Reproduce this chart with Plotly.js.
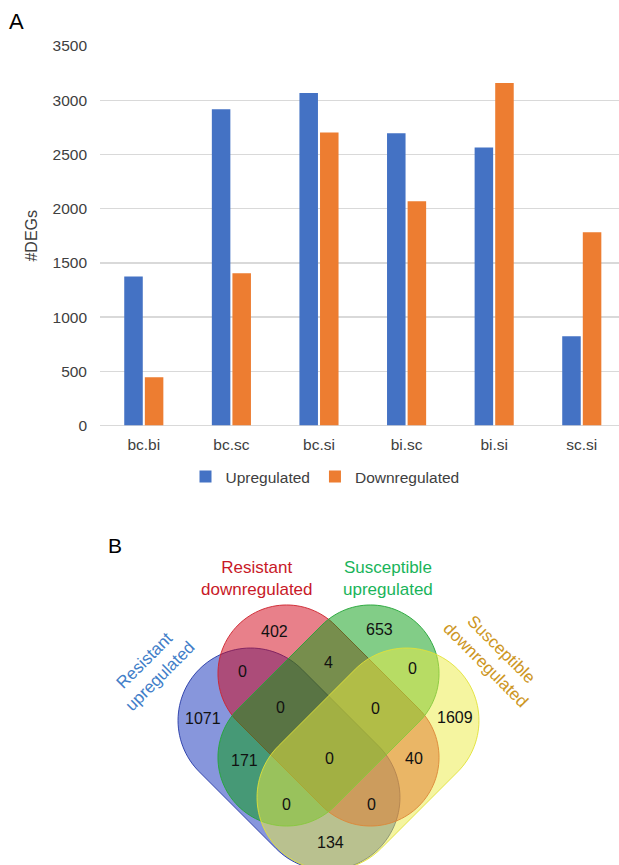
<!DOCTYPE html>
<html>
<head>
<meta charset="utf-8">
<script src="https://cdn.plot.ly/plotly-3.0.1.min.js"></script>
<style>
html, body { margin: 0; padding: 0; background: #ffffff; }
#chart { width: 619px; height: 865px; }
</style>
</head>
<body>
<div id="chart"></div>
<script>
// ---------- Panel A data ----------
const categories = ['bc.bi', 'bc.sc', 'bc.si', 'bi.sc', 'bi.si', 'sc.si'];
const upregulated = [1375, 2917, 3067, 2696, 2563, 822];
const downregulated = [445, 1403, 2702, 2068, 3158, 1782];
const seriesNames = ['Upregulated', 'Downregulated'];
const yTickValues = [0, 500, 1000, 1500, 2000, 2500, 3000, 3500];

// ---------- Panel B data ----------
const vennSetNames = ['Resistant<br>upregulated', 'Resistant<br>downregulated',
                      'Susceptible<br>upregulated', 'Susceptible<br>downregulated'];
// regions, each named by its member sets (1 = Resistant up, 2 = Resistant down, 3 = Susceptible up, 4 = Susceptible down)
const vennRegions = ['1', '2', '3', '4', '12', '13', '14', '23', '24', '34', '123', '124', '134', '234', '1234'];
const vennCounts  = [1071, 402, 653, 1609, 0, 171, 134, 4, 40, 0, 0, 0, 0, 0, 0];

// ---------- layout helpers (geometry only) ----------
const W = 619, H = 865;
const px = x => x / W;
const py = y => 1 - y / H;
const FONT = 'Liberation Sans, Arial, sans-serif';

// position of each venn region label (pixels)
const regionPos = {
  '1': [203, 718], '2': [274, 631], '3': [379, 629], '4': [455, 717],
  '12': [242, 671], '13': [244, 760], '14': [330, 842], '23': [328, 662],
  '24': [414, 758], '34': [413, 668], '123': [280, 707], '124': [371, 804],
  '134': [286, 804], '234': [375, 708], '1234': [329, 758]
};

// capsule geometry for the four sets (pixels; s = half length of straight part, r = radius,
// ang = direction of the long axis on screen)
const capsules = [
  { cx: 289,   cy: 759,   s: 54.4, r: 72.5, ang: 45,  fill: 'rgba(15,45,185,0.5)',  line: 'rgba(35,55,165,0.9)' },
  { cx: 328.5, cy: 715.5, s: 59.3, r: 68.6, ang: 45,  fill: 'rgba(209,1,21,0.5)',   line: 'rgba(205,35,45,0.9)' },
  { cx: 328.5, cy: 715.5, s: 59.3, r: 68.6, ang: -45, fill: 'rgba(5,155,15,0.5)',   line: 'rgba(35,165,55,0.9)' },
  { cx: 368,   cy: 759,   s: 54.4, r: 72.5, ang: -45, fill: 'rgba(235,235,65,0.5)', line: 'rgba(225,225,55,0.9)' }
];

function capsulePath(e) {
  const n = 60, t0 = e.ang * Math.PI / 180;
  const ux = Math.cos(t0), uy = Math.sin(t0);
  const vx = -uy, vy = ux;
  const pts = [];
  [1, -1].forEach(side => {
    const ccx = e.cx + side * e.s * ux, ccy = e.cy + side * e.s * uy;
    const start = side === 1 ? -Math.PI / 2 : Math.PI / 2;
    for (let i = 0; i <= n; i++) {
      const t = start + Math.PI * i / n;
      pts.push([ccx + e.r * (Math.cos(t) * ux + Math.sin(t) * vx),
                ccy + e.r * (Math.cos(t) * uy + Math.sin(t) * vy)]);
    }
  });
  return pts.map((p, i) => (i === 0 ? 'M' : 'L') + px(p[0]).toFixed(5) + ',' + py(p[1]).toFixed(5)).join('') + 'Z';
}

const setLabelStyle = [
  { x: 152, y: 668, angle: -45, color: 'rgb(65,125,200)' },
  { x: 257, y: 578, angle: 0,   color: 'rgb(200,25,40)' },
  { x: 388, y: 578, angle: 0,   color: 'rgb(25,180,90)' },
  { x: 494, y: 657, angle: 45,  color: 'rgb(205,150,35)' }
];

// ---------- traces ----------
const traces = [
  { type: 'bar', name: seriesNames[0], x: categories, y: upregulated,
    marker: { color: '#4472C4' }, xaxis: 'x', yaxis: 'y', hoverinfo: 'x+y+name' },
  { type: 'bar', name: seriesNames[1], x: categories, y: downregulated,
    marker: { color: '#ED7D31' }, xaxis: 'x', yaxis: 'y', hoverinfo: 'x+y+name' }
];

// ---------- shapes & annotations ----------
const shapes = capsules.map(e => ({
  type: 'path', xref: 'paper', yref: 'paper', path: capsulePath(e),
  fillcolor: e.fill, line: { color: e.line, width: 1 }, layer: 'above'
}));

const annotations = [];
annotations.push({ text: 'A', xref: 'paper', yref: 'paper', x: px(16), y: py(21),
  xanchor: 'center', yanchor: 'middle',
  showarrow: false, font: { family: FONT, size: 22, color: '#000' } });
annotations.push({ text: 'B', xref: 'paper', yref: 'paper', x: px(115), y: py(545),
  xanchor: 'center', yanchor: 'middle',
  showarrow: false, font: { family: FONT, size: 21, color: '#000' } });

vennSetNames.forEach((name, i) => {
  const s = setLabelStyle[i];
  annotations.push({ text: name, xref: 'paper', yref: 'paper', x: px(s.x), y: py(s.y),
    xanchor: 'center', yanchor: 'middle',
    textangle: s.angle, showarrow: false, align: 'center',
    font: { family: FONT, size: 17, color: s.color } });
});

vennRegions.forEach((r, i) => {
  const p = regionPos[r];
  annotations.push({ text: String(vennCounts[i]), xref: 'paper', yref: 'paper',
    x: px(p[0]), y: py(p[1]), xanchor: 'center', yanchor: 'middle', showarrow: false,
    font: { family: FONT, size: 16, color: '#111' } });
});

// ---------- layout ----------
const layout = {
  width: W, height: H,
  margin: { l: 0, r: 0, t: 0, b: 0 },
  paper_bgcolor: '#ffffff', plot_bgcolor: '#ffffff',
  font: { family: FONT, size: 15.5, color: '#595959' },
  barmode: 'group', bargap: 0.53, bargroupgap: 0.1,
  showlegend: true,
  legend: { orientation: 'h', x: px(325), xanchor: 'center', y: py(477), yanchor: 'middle',
            font: { family: FONT, size: 15.5, color: '#404040' }, itemwidth: 30,
            traceorder: 'normal', bgcolor: 'rgba(0,0,0,0)' },
  xaxis: { domain: [px(100), 1], range: [-0.5, 5.425], type: 'category',
           showgrid: false, zeroline: false, showline: false, ticks: '',
           ticklabelstandoff: 8,
           tickfont: { family: FONT, size: 15.5, color: '#404040' }, fixedrange: true },
  yaxis: { domain: [py(425.5), py(46)], range: [0, 3500], tickvals: yTickValues,
           showgrid: true, gridcolor: '#D9D9D9', gridwidth: 1.3,
           zeroline: true, zerolinecolor: '#D9D9D9', zerolinewidth: 1.5,
           showline: false, ticks: '', ticklabelstandoff: 12,
           tickfont: { family: FONT, size: 15.5, color: '#404040' },
           title: { text: '#DEGs', standoff: 10, font: { family: FONT, size: 16, color: '#404040' } },
           fixedrange: true },
  shapes: shapes,
  annotations: annotations
};

Plotly.newPlot('chart', traces, layout, { displayModeBar: false, staticPlot: true });
</script>
</body>
</html>
